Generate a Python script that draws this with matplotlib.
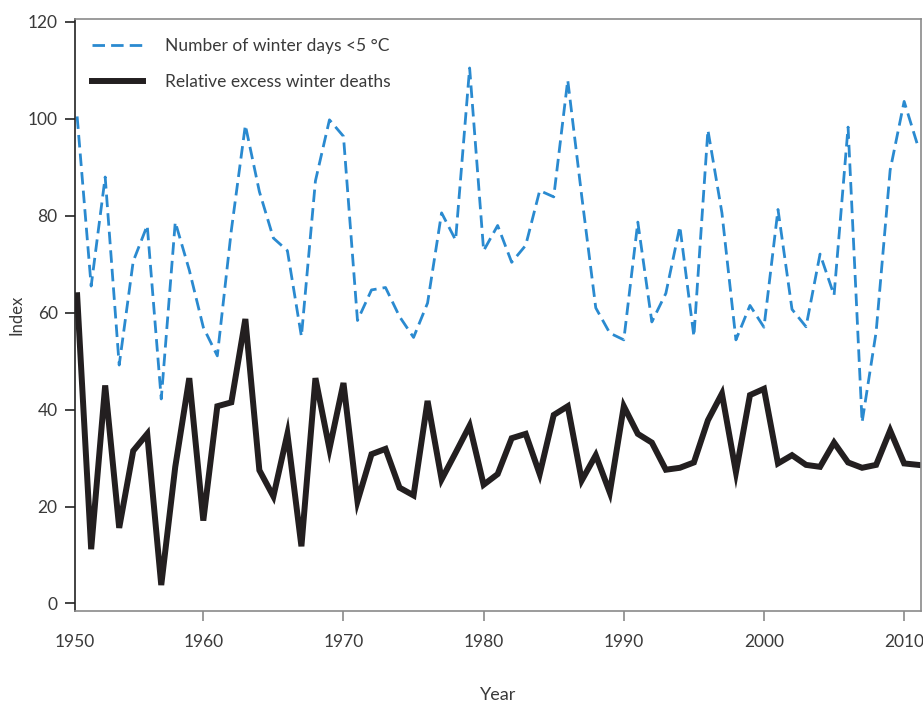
import matplotlib
matplotlib.use("Agg")
import matplotlib.pyplot as plt

# values (index, per winter)
years = list(range(1951, 2012))

winter_days = [100.5, 65.5, 88.0, 49.2, 70.6, 78.0, 42.2, 78.7, 68.8, 57.0,
               51.1, 77.0, 98.7, 85.0, 75.4, 72.8, 55.1, 87.2, 99.8, 96.4,
               58.4, 64.7, 65.2, 59.2, 54.9, 62.0, 80.6, 75.0, 110.5, 72.8,
               78.0, 70.4, 73.9, 85.2, 83.9, 108.0, 84.0, 61.0, 55.8, 54.4,
               78.7, 58.1, 64.0, 77.8, 55.1, 97.7, 80.6, 54.4, 61.5, 57.0,
               81.3, 60.7, 57.1, 72.1, 63.6, 98.3, 37.4, 56.0, 89.4, 103.6,
               94.2]

excess_deaths = [63.6, 11.2, 45.0, 15.6, 31.5, 35.0, 3.8, 28.2, 46.5, 17.1,
                 40.7, 41.5, 58.7, 27.5, 22.1, 35.0, 11.8, 46.5, 31.9, 45.5,
                 21.1, 30.8, 31.9, 23.9, 22.3, 41.8, 25.6, 31.1, 36.7, 24.5,
                 26.7, 34.1, 35.0, 26.7, 38.9, 40.7, 25.4, 30.6, 22.9, 40.7,
                 35.0, 33.2, 27.6, 28.0, 29.1, 37.8, 43.3, 27.1, 43.0, 44.3,
                 28.9, 30.6, 28.6, 28.2, 33.2, 29.1, 28.0, 28.6, 35.7, 28.9,
                 28.6]

x_ticks = [1960, 1970, 1980, 1990, 2000, 2010]
y_ticks = [0, 20, 40, 60, 80, 100, 120]

plt.rcParams['font.family'] = ['Lato', 'DejaVu Sans']
text_col = '#3a3a3a'
spine_col = '#8a8a8a'

fig = plt.figure(figsize=(9.23, 7.05), dpi=100)
ax = fig.add_axes([0.0813, 0.133, 0.9165, 0.840])

ax.plot(years, winter_days, color='#2a8ad0', lw=2.0, linestyle=(0, (4.5, 2.2)),
        label='Number of winter days <5 \u00b0C')
ax.plot(years, excess_deaths, color='#231f20', lw=4.3, solid_joinstyle='miter',
        label='Relative excess winter deaths')

ax.set_xlim(1950.85, 2011.2)
ax.set_ylim(-1.6, 120.6)

# the 1950 label sits at the left spine in the original
ax.set_xticks([1950.85] + x_ticks)
ax.set_xticklabels(['1950'] + [str(t) for t in x_ticks])
ax.set_yticks(y_ticks)

ax.tick_params(axis='x', direction='out', length=7.2, width=1.2, color=spine_col,
               labelsize=12.5, labelcolor=text_col, pad=9)
ax.tick_params(axis='y', direction='out', length=7.5, width=1.2, color='#222222',
               labelsize=12.5, labelcolor=text_col, pad=5)
ax.xaxis.get_major_ticks()[0].tick1line.set_visible(False)

for side in ['top', 'right', 'bottom']:
    ax.spines[side].set_color(spine_col)
    ax.spines[side].set_linewidth(1.2)
ax.spines['left'].set_color('#222222')
ax.spines['left'].set_linewidth(1.2)

ax.set_xlabel('Year', fontsize=13, color=text_col, labelpad=27)
ax.set_ylabel('Index', fontsize=12, color=text_col, labelpad=2)

leg = ax.legend(loc='upper left', frameon=False, fontsize=12.5, handlelength=2.9,
                handletextpad=1.3, labelspacing=1.15, borderaxespad=0.7,
                bbox_to_anchor=(-0.002, 1.0))
for t in leg.get_texts():
    t.set_color(text_col)

fig.savefig('out.png', dpi=100)
